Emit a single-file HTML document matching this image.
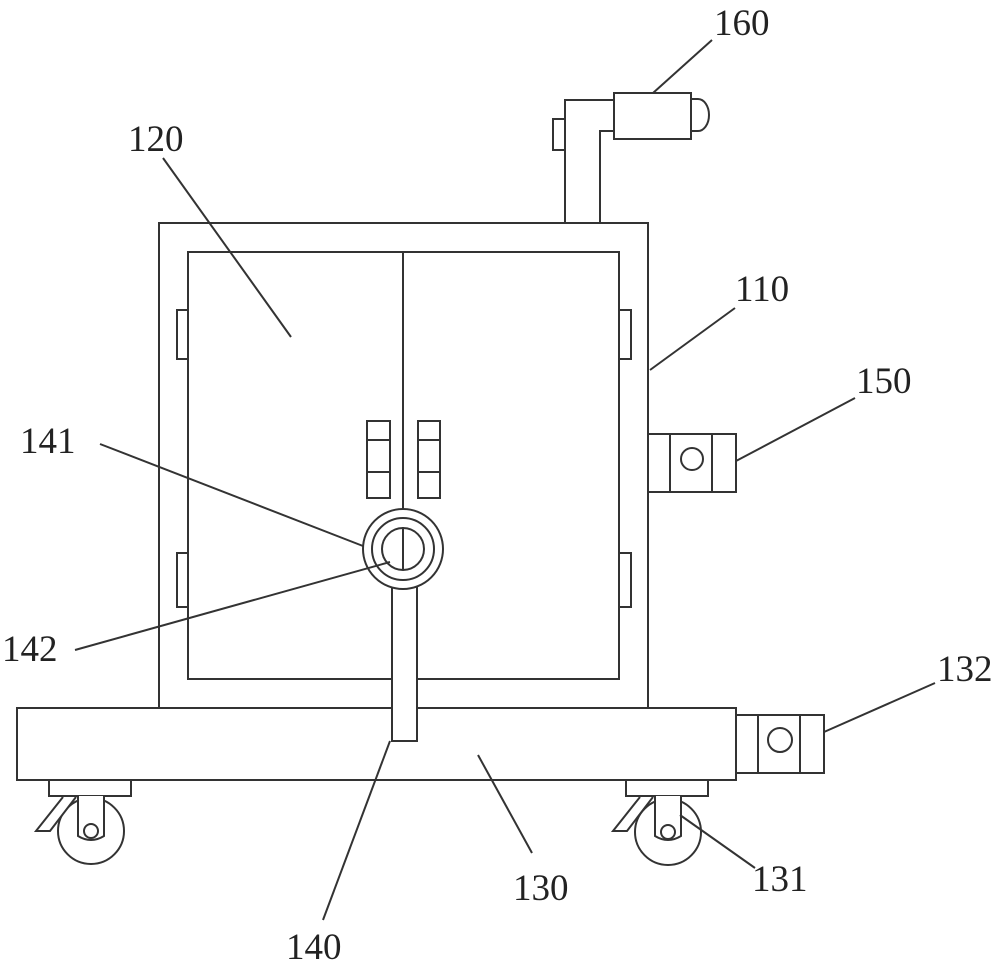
<!DOCTYPE html>
<html><head><meta charset="utf-8"><style>
html,body{margin:0;padding:0;background:#fff;}
svg{display:block}
text{font-family:"Liberation Serif","Noto Serif CJK SC",serif;font-size:37px;fill:#222;}
</style></head><body>
<svg width="1000" height="967" viewBox="0 0 1000 967" xmlns="http://www.w3.org/2000/svg">
<g fill="none" stroke="#333" stroke-width="2">
<path d="M565 222 V100 H614 M600 222 V131 H614"/>
<rect x="553" y="119" width="12" height="31"/>
<rect x="614" y="93" width="77" height="46"/>
<path d="M691 99 H698 A11 16 0 0 1 698 131 H691"/>
<rect x="159" y="223" width="489" height="485"/>
<rect x="188" y="252" width="431" height="427"/>
<line x1="403" y1="252" x2="403" y2="509"/>
<rect x="177" y="310" width="11" height="49"/>
<rect x="177" y="553" width="11" height="54"/>
<rect x="619" y="310" width="12" height="49"/>
<rect x="619" y="553" width="12" height="54"/>
<rect x="367" y="421" width="23" height="77"/>
<line x1="367" y1="440" x2="390" y2="440"/><line x1="367" y1="472" x2="390" y2="472"/>
<rect x="418" y="421" width="22" height="77"/>
<line x1="418" y1="440" x2="440" y2="440"/><line x1="418" y1="472" x2="440" y2="472"/>
<rect x="648" y="434" width="88" height="58" fill="#fff"/>
<line x1="670" y1="434" x2="670" y2="492"/><line x1="712" y1="434" x2="712" y2="492"/>
<circle cx="692" cy="459" r="11"/>
<rect x="17" y="708" width="719" height="72" fill="#fff"/>
<rect x="736" y="715" width="88" height="58"/>
<line x1="758" y1="715" x2="758" y2="773"/><line x1="800" y1="715" x2="800" y2="773"/>
<circle cx="780" cy="740" r="12"/>
<rect x="392" y="587" width="25" height="154" fill="#fff"/>
<circle cx="403" cy="549" r="40" fill="#fff"/>
<circle cx="403" cy="549" r="31"/>
<circle cx="403" cy="549" r="21"/>
<line x1="403" y1="527" x2="403" y2="570"/>
<circle cx="91" cy="831" r="33"/>
<rect x="49" y="780" width="82" height="16" fill="#fff"/>
<path d="M63 797 L36 831 L50 831 L76 797" fill="#fff"/>
<path d="M78 796 V836 Q91 844 104 836 V796" fill="#fff"/>
<circle cx="91" cy="831" r="7"/>
<circle cx="668" cy="832" r="33"/>
<rect x="626" y="780" width="82" height="16" fill="#fff"/>
<path d="M640 797 L613 831 L627 831 L653 797" fill="#fff"/>
<path d="M655 796 V836 Q668 844 681 836 V796" fill="#fff"/>
<circle cx="668" cy="832" r="7"/>
<line x1="653" y1="93" x2="712" y2="40"/>
<line x1="163" y1="158" x2="291" y2="337"/>
<line x1="735" y1="308" x2="650" y2="370"/>
<line x1="736" y1="461" x2="855" y2="398"/>
<line x1="100" y1="444" x2="363" y2="546"/>
<line x1="75" y1="650" x2="390" y2="562"/>
<line x1="824" y1="732" x2="935" y2="683"/>
<line x1="680" y1="815" x2="755" y2="868"/>
<line x1="478" y1="755" x2="532" y2="853"/>
<line x1="390" y1="741" x2="323" y2="920"/>
</g>
<text x="714" y="35">160</text>
<text x="128" y="151">120</text>
<text x="735" y="301">110</text>
<text x="856" y="393">150</text>
<text x="20" y="453">141</text>
<text x="2" y="661">142</text>
<text x="937" y="681">132</text>
<text x="752" y="891">131</text>
<text x="513" y="900">130</text>
<text x="286" y="959">140</text>
</svg>
</body></html>
